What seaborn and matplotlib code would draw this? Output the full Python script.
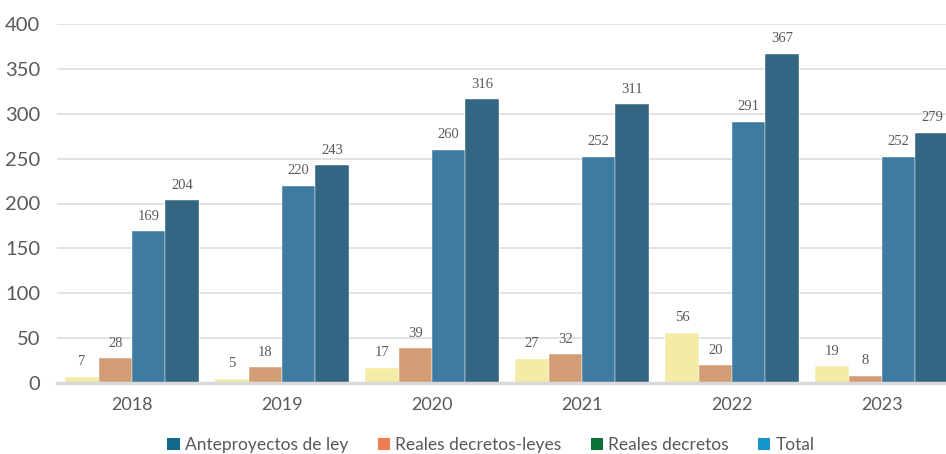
"""Bar chart: normas tramitadas por año."""

import matplotlib
matplotlib.use("Agg")
import matplotlib.pyplot as plt
from matplotlib.patches import Patch
import pandas as pd
import seaborn as sns

years = ["2018", "2019", "2020", "2021", "2022", "2023"]
series = ["Anteproyectos de ley", "Reales decretos-leyes", "Reales decretos", "Total"]
anteproyectos = [7, 5, 17, 27, 56, 19]
decretos_leyes = [28, 18, 39, 32, 20, 8]
decretos = [169, 220, 260, 252, 291, 252]
total = [204, 243, 316, 311, 367, 279]

bar_colors = ["#F3EBA6", "#D29D75", "#3D7BA0", "#336683"]
legend_colors = ["#0F6A8C", "#EE7D4F", "#0B7237", "#1496CC"]
TEXT = "#595959"

df = pd.DataFrame({"year": years, series[0]: anteproyectos, series[1]: decretos_leyes,
                   series[2]: decretos, series[3]: total})
long_df = df.melt(id_vars="year", var_name="serie", value_name="valor")

sns.set_style("white")
plt.rcParams["font.family"] = ["Lato", "DejaVu Sans"]

fig = plt.figure(figsize=(9.46, 4.54), dpi=100)
ax = fig.add_axes([57 / 946, 1 - 383 / 454, 900 / 946, 359 / 454])

sns.barplot(data=long_df, x="year", y="valor", hue="serie", hue_order=series,
            palette=bar_colors, width=0.89, gap=0, saturation=1, ax=ax,
            edgecolor="#ffffff", linewidth=0.3, legend=False)

for cont in ax.containers:
    ax.bar_label(cont, padding=6, fontsize=10.5, color=TEXT, family="Liberation Serif")

ax.set_ylim(0, 400)
ax.set_yticks(range(0, 401, 50))
ax.yaxis.grid(True, color="#DDDDDD", linewidth=1.2)
ax.set_axisbelow(True)
for s in ["left", "right", "top"]:
    ax.spines[s].set_visible(False)
ax.spines["bottom"].set_color("#D9D9D9")
ax.spines["bottom"].set_linewidth(2.5)
ax.tick_params(axis="y", length=0, labelsize=14.5, labelcolor=TEXT, pad=12)
ax.tick_params(axis="x", length=0, labelsize=13, labelcolor=TEXT, pad=10)
ax.set_xlabel("")
ax.set_ylabel("")

handles = [Patch(facecolor=c, edgecolor="none") for c in legend_colors]
fig.legend(handles, series, loc="center", bbox_to_anchor=(491 / 946, 1 - 445 / 454),
           ncol=4, frameon=False, fontsize=12.5, labelcolor=TEXT,
           handlelength=0.7, handleheight=0.7, handletextpad=0.3, columnspacing=1.7)

fig.savefig("out.png", dpi=100)
plt.close(fig)
